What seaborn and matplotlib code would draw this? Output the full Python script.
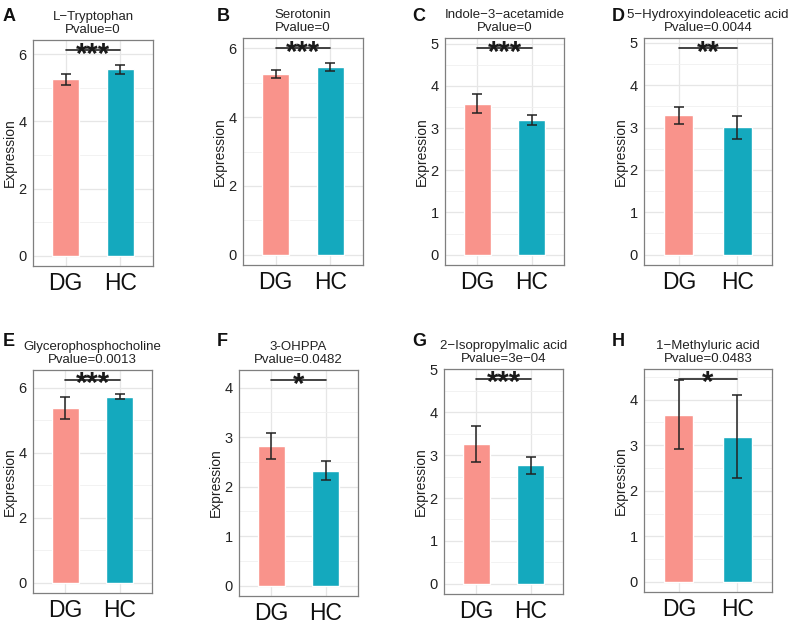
import numpy as np
import pandas as pd
import matplotlib
matplotlib.use("Agg")
import matplotlib.pyplot as plt
import matplotlib.transforms as mtransforms
import seaborn as sns

sns.set_style("white")
plt.rcParams['font.family'] = ['Liberation Sans', 'DejaVu Sans']

# ---- data ----
letters = ["A", "B", "C", "D", "E", "F", "G", "H"]
metabolites = ["L\u2212Tryptophan", "Serotonin", "Indole\u22123\u2212acetamide",
               "5\u2212Hydroxyindoleacetic acid", "Glycerophosphocholine", "3-OHPPA",
               "2\u2212Isopropylmalic acid", "1\u2212Methyluric acid"]
pvalues = ["0", "0", "0", "0.0044", "0.0013", "0.0482", "3e\u221204", "0.0483"]
stars = ["***", "***", "***", "**", "***", "*", "***", "*"]
groups = ["DG", "HC"]
dg_mean = [5.25, 5.26, 3.58, 3.29, 5.37, 2.82, 3.27, 3.67]
hc_mean = [5.55, 5.45, 3.19, 3.01, 5.73, 2.32, 2.76, 3.19]
dg_err = [0.17, 0.11, 0.22, 0.20, 0.34, 0.27, 0.42, 0.76]
hc_err = [0.13, 0.11, 0.12, 0.27, 0.08, 0.19, 0.20, 0.91]
sig_y = [6.12, 6.0, 4.89, 4.87, 6.24, 4.15, 4.77, 4.45]
ytick_max = [6, 6, 5, 5, 6, 4, 5, 4]
ytick_step = [2, 2, 1, 1, 2, 1, 1, 1]

colors = {"DG": "#F9938B", "HC": "#14A9BE"}

W, H = 800, 626
fig = plt.figure(figsize=(W / 100, H / 100), dpi=100)

# axes boxes in pixels: left, top, right, bottom
boxes = [(33, 40, 153, 266), (243, 38, 363, 265), (445, 38, 564, 265), (644, 38, 772, 265),
         (33, 370, 152, 593), (239, 370, 358, 596), (444, 369, 563, 594), (644, 369, 772, 592)]
letter_x = [3, 217, 412, 612, 3, 217, 412, 612]

for i in range(8):
    l, t, r, b = boxes[i]
    ax = fig.add_axes([l / W, 1 - b / H, (r - l) / W, (b - t) / H])
    df = pd.DataFrame({"group": groups, "value": [dg_mean[i], hc_mean[i]]})
    sns.barplot(data=df, x="group", y="value", hue="group", palette=colors,
                saturation=1, width=0.5, errorbar=None, legend=False, ax=ax, zorder=3)
    ax.errorbar([0, 1], df["value"], yerr=[dg_err[i], hc_err[i]], fmt="none",
                ecolor="#222222", elinewidth=1.1, capsize=3.5, capthick=1.1, zorder=4)
    # significance line
    ax.plot([0, 1], [sig_y[i], sig_y[i]], color="#222222", lw=1.2, zorder=5)
    shift = mtransforms.offset_copy(ax.transData, fig=fig, x=0, y=-3, units="points")
    ax.text(0.5, sig_y[i], stars[i], ha="center", va="center", fontsize=21,
            fontweight="bold", color="#1a1a1a", zorder=6, transform=shift)

    top = sig_y[i]
    ax.set_ylim(-0.05 * top, top * 1.05)
    ax.set_xlim(-0.6, 1.6)
    yt = np.arange(0, ytick_max[i] + 0.01, ytick_step[i])
    ax.set_yticks(yt)
    ax.set_yticks(np.arange(ytick_step[i] / 2, top * 1.05, ytick_step[i]), minor=True)
    ax.grid(True, which="major", color="#E6E6E6", lw=0.9, zorder=0)
    ax.grid(True, which="minor", axis="y", color="#F0F0F0", lw=0.6, zorder=0)
    ax.set_axisbelow(True)
    for s in ax.spines.values():
        s.set_color("#7F7F7F")
        s.set_linewidth(0.9)
    ax.tick_params(axis="y", labelsize=10.5, colors="#7F7F7F", labelcolor="#222222",
                   length=2.5, width=0.8, pad=2)
    ax.tick_params(axis="y", which="minor", length=0)
    ax.tick_params(axis="x", labelsize=16.5, colors="#7F7F7F", labelcolor="#111111",
                   length=2.5, width=0.8, pad=2)
    ax.set_xlabel("")
    ax.set_ylabel("Expression", fontsize=10, color="#222222", labelpad=1)
    ax.set_title(metabolites[i] + "\nPvalue=" + pvalues[i], fontsize=9.5,
                 color="#222222", pad=5, linespacing=1.1)
    ty = 8 if i < 4 else 333
    fig.text(letter_x[i] / W, 1 - ty / H, letters[i], fontsize=13, fontweight="bold",
             ha="left", va="top", color="#111111")

fig.savefig("out.png", dpi=100)
